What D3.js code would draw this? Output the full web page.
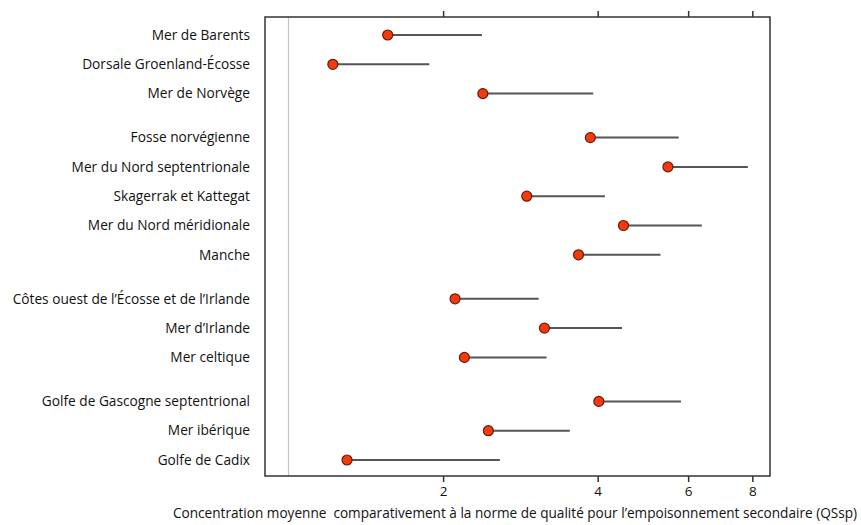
<!DOCTYPE html>
<html>
<head>
<meta charset="utf-8">
<script src="https://cdn.jsdelivr.net/npm/d3@7"></script>
<style>
  html, body { margin: 0; padding: 0; background: #fff; }
  svg { display: block; }
  text { font-family: "Open Sans", "Noto Sans", sans-serif; fill: #111; }
</style>
</head>
<body>
<svg id="chart" width="861" height="525"></svg>
<script>
// Regions, top to bottom
const regions = [
  "Mer de Barents",
  "Dorsale Groenland-Écosse",
  "Mer de Norvège",
  "Fosse norvégienne",
  "Mer du Nord septentrionale",
  "Skagerrak et Kattegat",
  "Mer du Nord méridionale",
  "Manche",
  "Côtes ouest de l’Écosse et de l’Irlande",
  "Mer d’Irlande",
  "Mer celtique",
  "Golfe de Gascogne septentrional",
  "Mer ibérique",
  "Golfe de Cadix"
];
// Group of each region (gaps are drawn between groups)
const groups = [0, 0, 0, 1, 1, 1, 1, 1, 2, 2, 2, 3, 3, 3];
// Mean concentration relative to the QSsp
const meanValues = [1.56, 1.22, 2.39, 3.87, 5.48, 2.91, 4.49, 3.67, 2.11, 3.15, 2.20, 4.02, 2.45, 1.30];
// Upper end of each range
const upperValues = [2.38, 1.88, 3.92, 5.75, 7.84, 4.13, 6.38, 5.30, 3.07, 4.46, 3.18, 5.81, 3.53, 2.58];
const tickValues = [2, 4, 6, 8];
const referenceValue = 1;
const xTitle = "Concentration moyenne  comparativement à la norme de qualité pour l’empoisonnement secondaire (QSsp)";

const svg = d3.select("#chart");
const box = { left: 265, right: 770, top: 17, bottom: 476 };

const x = d3.scaleLog()
  .domain([0.9, 8.66])
  .range([box.left, box.right]);

// Row positions: 1.5 rows of spacing between groups
const rowPos = regions.map((_, i) => i + groups[i] * 0.5);
const y = d3.scaleLinear()
  .domain([0, 14.5])
  .range([35, 460]);

// Reference line at ratio 1
svg.append("line")
  .attr("x1", x(referenceValue)).attr("x2", x(referenceValue))
  .attr("y1", box.top).attr("y2", box.bottom)
  .attr("stroke", "#c4c4c4").attr("stroke-width", 1.2);

// Frame
svg.append("rect")
  .attr("x", box.left).attr("y", box.top)
  .attr("width", box.right - box.left).attr("height", box.bottom - box.top)
  .attr("fill", "none").attr("stroke", "#333").attr("stroke-width", 1.5);

// Bottom axis with labels
const bottomAxis = d3.axisBottom(x).tickValues(tickValues).tickFormat(d3.format("d")).tickSize(6).tickPadding(4);
const gb = svg.append("g").attr("transform", `translate(0,${box.bottom})`).call(bottomAxis);
gb.select(".domain").remove();
gb.selectAll(".tick line").attr("stroke", "#333").attr("stroke-width", 1.5);
gb.selectAll(".tick text").style("font-size", "13.5px").style("font-family", "'Open Sans', sans-serif").attr("fill", "#111");

// Top axis, ticks only
const topAxis = d3.axisTop(x).tickValues(tickValues).tickFormat("").tickSize(6);
const gt = svg.append("g").attr("transform", `translate(0,${box.top})`).call(topAxis);
gt.select(".domain").remove();
gt.selectAll(".tick line").attr("stroke", "#333").attr("stroke-width", 1.5);

// Range lines
svg.append("g").selectAll("line")
  .data(regions)
  .join("line")
  .attr("x1", (d, i) => x(meanValues[i]))
  .attr("x2", (d, i) => x(upperValues[i]))
  .attr("y1", (d, i) => y(rowPos[i]))
  .attr("y2", (d, i) => y(rowPos[i]))
  .attr("stroke", "#555").attr("stroke-width", 2);

// Mean points
svg.append("g").selectAll("circle")
  .data(regions)
  .join("circle")
  .attr("cx", (d, i) => x(meanValues[i]))
  .attr("cy", (d, i) => y(rowPos[i]))
  .attr("r", 5)
  .attr("fill", "#f53a0f")
  .attr("stroke", "#6a1a08").attr("stroke-width", 1.2);

// Region labels
svg.append("g").selectAll("text")
  .data(regions)
  .join("text")
  .attr("x", 250)
  .attr("y", (d, i) => y(rowPos[i]))
  .attr("dy", "0.35em")
  .attr("text-anchor", "end")
  .style("font-size", "13.7px")
  .text(d => d);

// Axis title
svg.append("text")
  .attr("x", 515)
  .attr("y", 518)
  .attr("text-anchor", "middle")
  .style("font-size", "13.6px")
  .style("white-space", "pre")
  .text(xTitle);
</script>
</body>
</html>
